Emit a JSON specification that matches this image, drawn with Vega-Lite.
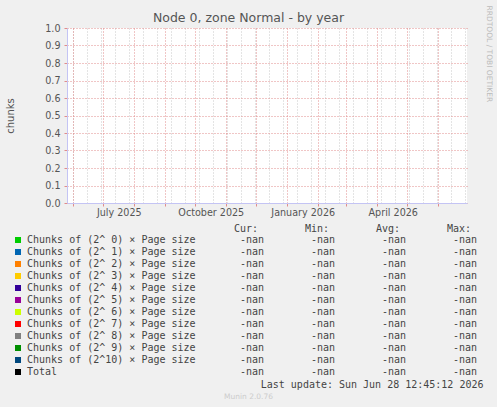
{
  "$schema": "https://vega.github.io/schema/vega-lite/v6.json",
  "width": 400,
  "height": 175,
  "autosize": {"type": "none"},
  "padding": {"left": 67, "top": 28, "right": 30, "bottom": 204},
  "background": "#f0f0f0",
  "view": {"fill": "white", "stroke": null},
  "config": {
    "font": "DejaVu Sans",
    "axis": {"labelFont": "DejaVu Sans", "titleFont": "DejaVu Sans", "titleFontWeight": "normal"}
  },
  "title": {
    "text": "Node 0, zone Normal - by year",
    "anchor": "middle",
    "frame": "group",
    "fontSize": 12.5,
    "fontWeight": "normal",
    "font": "DejaVu Sans",
    "color": "#555555",
    "dx": -18.5,
    "dy": 23
  },
  "datasets": {
    "series": [
      {"name": "Chunks of (2^ 0) × Page size", "time": "2026-06-28T12:45:12", "value": null, "Cur": "-nan", "Min": "-nan", "Avg": "-nan", "Max": "-nan"},
      {"name": "Chunks of (2^ 1) × Page size", "time": "2026-06-28T12:45:12", "value": null, "Cur": "-nan", "Min": "-nan", "Avg": "-nan", "Max": "-nan"},
      {"name": "Chunks of (2^ 2) × Page size", "time": "2026-06-28T12:45:12", "value": null, "Cur": "-nan", "Min": "-nan", "Avg": "-nan", "Max": "-nan"},
      {"name": "Chunks of (2^ 3) × Page size", "time": "2026-06-28T12:45:12", "value": null, "Cur": "-nan", "Min": "-nan", "Avg": "-nan", "Max": "-nan"},
      {"name": "Chunks of (2^ 4) × Page size", "time": "2026-06-28T12:45:12", "value": null, "Cur": "-nan", "Min": "-nan", "Avg": "-nan", "Max": "-nan"},
      {"name": "Chunks of (2^ 5) × Page size", "time": "2026-06-28T12:45:12", "value": null, "Cur": "-nan", "Min": "-nan", "Avg": "-nan", "Max": "-nan"},
      {"name": "Chunks of (2^ 6) × Page size", "time": "2026-06-28T12:45:12", "value": null, "Cur": "-nan", "Min": "-nan", "Avg": "-nan", "Max": "-nan"},
      {"name": "Chunks of (2^ 7) × Page size", "time": "2026-06-28T12:45:12", "value": null, "Cur": "-nan", "Min": "-nan", "Avg": "-nan", "Max": "-nan"},
      {"name": "Chunks of (2^ 8) × Page size", "time": "2026-06-28T12:45:12", "value": null, "Cur": "-nan", "Min": "-nan", "Avg": "-nan", "Max": "-nan"},
      {"name": "Chunks of (2^ 9) × Page size", "time": "2026-06-28T12:45:12", "value": null, "Cur": "-nan", "Min": "-nan", "Avg": "-nan", "Max": "-nan"},
      {"name": "Chunks of (2^10) × Page size", "time": "2026-06-28T12:45:12", "value": null, "Cur": "-nan", "Min": "-nan", "Avg": "-nan", "Max": "-nan"},
      {"name": "Total", "time": "2026-06-28T12:45:12", "value": null, "Cur": "-nan", "Min": "-nan", "Avg": "-nan", "Max": "-nan"}
    ]
  },
  "resolve": {"scale": {"x": "independent", "y": "independent"}, "axis": {"x": "independent", "y": "independent"}},
  "layer": [
    {
      "data": {"name": "series"},
      "mark": {"type": "point", "shape": "square", "filled": true, "opacity": 1},
      "encoding": {
        "x": {
          "field": "time", "type": "temporal",
          "scale": {"type": "utc", "domain": [{"year": 2025, "month": 5, "date": 25, "hours": 18, "utc": true}, {"year": 2026, "month": 6, "date": 29, "hours": 18, "utc": true}]},
          "axis": {
            "values": [
              {"year": 2025, "month": 6, "date": 1, "utc": true},
              {"year": 2025, "month": 6, "date": 15, "utc": true},
              {"year": 2025, "month": 6, "date": 29, "utc": true},
              {"year": 2025, "month": 7, "date": 13, "utc": true},
              {"year": 2025, "month": 7, "date": 27, "utc": true},
              {"year": 2025, "month": 8, "date": 10, "utc": true},
              {"year": 2025, "month": 8, "date": 24, "utc": true},
              {"year": 2025, "month": 9, "date": 7, "utc": true},
              {"year": 2025, "month": 9, "date": 21, "utc": true},
              {"year": 2025, "month": 10, "date": 5, "utc": true},
              {"year": 2025, "month": 10, "date": 19, "utc": true},
              {"year": 2025, "month": 11, "date": 2, "utc": true},
              {"year": 2025, "month": 11, "date": 16, "utc": true},
              {"year": 2025, "month": 11, "date": 30, "utc": true},
              {"year": 2025, "month": 12, "date": 14, "utc": true},
              {"year": 2025, "month": 12, "date": 28, "utc": true},
              {"year": 2026, "month": 1, "date": 11, "utc": true},
              {"year": 2026, "month": 1, "date": 25, "utc": true},
              {"year": 2026, "month": 2, "date": 8, "utc": true},
              {"year": 2026, "month": 2, "date": 22, "utc": true},
              {"year": 2026, "month": 3, "date": 8, "utc": true},
              {"year": 2026, "month": 3, "date": 22, "utc": true},
              {"year": 2026, "month": 4, "date": 5, "utc": true},
              {"year": 2026, "month": 4, "date": 19, "utc": true},
              {"year": 2026, "month": 5, "date": 3, "utc": true},
              {"year": 2026, "month": 5, "date": 17, "utc": true},
              {"year": 2026, "month": 5, "date": 31, "utc": true},
              {"year": 2026, "month": 6, "date": 14, "utc": true},
              {"year": 2026, "month": 6, "date": 28, "utc": true}
            ],
            "grid": true, "gridColor": "#c8c8c8", "gridDash": [1, 2],
            "ticks": false, "labels": false, "domain": false, "title": null
          }
        },
        "y": {
          "field": "value", "type": "quantitative",
          "scale": {"domain": [0, 1], "nice": false, "zero": false},
          "axis": {
            "values": [0, 0.1, 0.2, 0.3, 0.4, 0.5, 0.6, 0.7, 0.8, 0.9, 1.0],
            "format": ".1f",
            "grid": true, "gridColor": "#e08c8c", "gridDash": [1, 2],
            "ticks": true, "tickColor": "#e08c8c", "tickSize": 3,
            "domain": true, "domainColor": "#c4c4f4",
            "labelFontSize": 9.6, "labelColor": "#555555", "labelPadding": 4,
            "title": "chunks", "titleFontSize": 10, "titleColor": "#555555", "titlePadding": 29
          }
        },
        "color": {
          "field": "name", "type": "nominal",
          "scale": {
            "domain": ["Chunks of (2^ 0) × Page size", "Chunks of (2^ 1) × Page size", "Chunks of (2^ 2) × Page size", "Chunks of (2^ 3) × Page size", "Chunks of (2^ 4) × Page size", "Chunks of (2^ 5) × Page size", "Chunks of (2^ 6) × Page size", "Chunks of (2^ 7) × Page size", "Chunks of (2^ 8) × Page size", "Chunks of (2^ 9) × Page size", "Chunks of (2^10) × Page size", "Total"],
            "range": ["#00cc00", "#0066b3", "#ff8000", "#ffcc00", "#330099", "#990099", "#ccff00", "#ff0000", "#808080", "#008f00", "#00487d", "#000000"]
          },
          "legend": {
            "orient": "none", "legendX": -54, "legendY": 207, "direction": "vertical",
            "title": null, "symbolType": "square", "symbolSize": 36, "symbolStrokeWidth": 0, "symbolOpacity": 1,
            "labelFont": "DejaVu Sans Mono", "labelFontSize": 10, "labelColor": "#444444",
            "labelOffset": 4, "rowPadding": 2, "padding": 0, "offset": 0, "labelLimit": 0
          }
        }
      }
    },
    {
      "data": {"name": "series"},
      "mark": {"type": "point"},
      "encoding": {
        "x": {
          "field": "time", "type": "temporal",
          "scale": {"type": "utc", "domain": [{"year": 2025, "month": 5, "date": 25, "hours": 18, "utc": true}, {"year": 2026, "month": 6, "date": 29, "hours": 18, "utc": true}]},
          "axis": {
            "orient": "bottom",
            "values": [
              {"year": 2025, "month": 6, "date": 1, "utc": true},
              {"year": 2025, "month": 7, "date": 1, "utc": true},
              {"year": 2025, "month": 8, "date": 1, "utc": true},
              {"year": 2025, "month": 9, "date": 1, "utc": true},
              {"year": 2025, "month": 10, "date": 1, "utc": true},
              {"year": 2025, "month": 11, "date": 1, "utc": true},
              {"year": 2025, "month": 12, "date": 1, "utc": true},
              {"year": 2026, "month": 1, "date": 1, "utc": true},
              {"year": 2026, "month": 2, "date": 1, "utc": true},
              {"year": 2026, "month": 3, "date": 1, "utc": true},
              {"year": 2026, "month": 4, "date": 1, "utc": true},
              {"year": 2026, "month": 5, "date": 1, "utc": true},
              {"year": 2026, "month": 6, "date": 1, "utc": true}
            ],
            "grid": true, "gridColor": "#e08c8c", "gridDash": [1, 2],
            "ticks": true, "tickColor": "#e08c8c", "tickSize": 3,
            "labels": false, "domain": true, "domainColor": "#c4c4f4",
            "title": "Last update: Sun Jun 28 12:45:12 2026",
            "titleFont": "DejaVu Sans Mono", "titleFontSize": 10, "titleColor": "#444444",
            "titleX": 416, "titleY": 181, "titleAlign": "right", "titleBaseline": "middle", "titleAnchor": null
          }
        },
        "y": {
          "field": "value", "type": "quantitative",
          "scale": {"domain": [0, 1], "nice": false, "zero": false},
          "axis": {
            "orient": "right", "labels": false, "ticks": false, "domain": false, "grid": false,
            "title": "RRDTOOL / TOBI OETIKER", "titleAngle": 90, "titleFontSize": 7.5, "titleColor": "#bbbbbb",
            "titleX": 21, "titleY": -23, "titleAlign": "left", "titleBaseline": "middle"
          }
        }
      }
    },
    {
      "data": {"name": "series"},
      "mark": {"type": "point"},
      "encoding": {
        "x": {
          "field": "time", "type": "temporal",
          "scale": {"type": "utc", "domain": [{"year": 2025, "month": 5, "date": 25, "hours": 18, "utc": true}, {"year": 2026, "month": 6, "date": 29, "hours": 18, "utc": true}]},
          "axis": {
            "orient": "bottom",
            "values": [
              {"year": 2025, "month": 7, "date": 16, "hours": 12, "utc": true},
              {"year": 2025, "month": 10, "date": 16, "hours": 12, "utc": true},
              {"year": 2026, "month": 1, "date": 16, "hours": 12, "utc": true},
              {"year": 2026, "month": 4, "date": 16, "hours": 12, "utc": true}
            ],
            "format": "%B %Y",
            "grid": false, "ticks": false, "tickSize": 0, "domain": false,
            "labelFontSize": 9.6, "labelColor": "#555555", "labelPadding": 9.5, "labelBaseline": "middle",
            "labelFlush": false, "labelOverlap": false,
            "title": "Munin 2.0.76", "titleFontSize": 7.5, "titleColor": "#cccccc",
            "titleX": 181, "titleY": 193, "titleAlign": "center", "titleBaseline": "middle"
          }
        },
        "y": {
          "field": "value", "type": "quantitative",
          "scale": {"domain": [0, 1], "nice": false, "zero": false},
          "axis": null
        }
      }
    },
    {
      "data": {"name": "series"},
      "transform": [{"fold": ["Cur", "Min", "Avg", "Max"], "as": ["column", "reading"]}],
      "mark": {"type": "text", "align": "right", "baseline": "middle", "font": "DejaVu Sans Mono", "fontSize": 10, "color": "#444444"},
      "encoding": {
        "x": {
          "field": "column", "type": "nominal",
          "scale": {"type": "point", "domain": ["Cur", "Min", "Avg", "Max"], "range": [197, 410], "padding": 0},
          "axis": {
            "orient": "bottom", "labelExpr": "datum.label + ':'",
            "domain": false, "ticks": false, "tickSize": 0, "grid": false,
            "labelPadding": 25, "labelBaseline": "middle", "labelAlign": "right", "labelOffset": -6.5,
            "labelFont": "DejaVu Sans Mono", "labelFontSize": 10, "labelColor": "#444444", "labelAngle": 0,
            "title": null
          }
        },
        "y": {
          "field": "name", "type": "nominal",
          "scale": {"type": "point", "domain": ["Chunks of (2^ 0) × Page size", "Chunks of (2^ 1) × Page size", "Chunks of (2^ 2) × Page size", "Chunks of (2^ 3) × Page size", "Chunks of (2^ 4) × Page size", "Chunks of (2^ 5) × Page size", "Chunks of (2^ 6) × Page size", "Chunks of (2^ 7) × Page size", "Chunks of (2^ 8) × Page size", "Chunks of (2^ 9) × Page size", "Chunks of (2^10) × Page size", "Total"], "range": [212, 344], "padding": 0},
          "axis": null
        },
        "text": {"field": "reading", "type": "nominal"}
      }
    }
  ]
}
